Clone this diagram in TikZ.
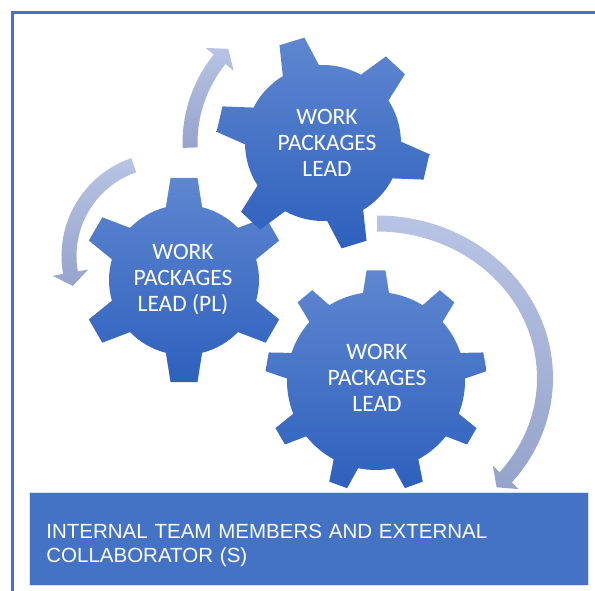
\documentclass[tikz,border=0pt]{standalone}
\usepackage{fontspec}
\newfontfamily\gearfont{Carlito}
\newfontfamily\teamfont{Liberation Sans}

\definecolor{officeblue}{RGB}{68,114,196}
\definecolor{gearlight}{RGB}{95,135,208}
\definecolor{geardark}{RGB}{46,96,189}
\definecolor{arrowlight}{RGB}{184,196,228}
\definecolor{arrowdark}{RGB}{150,163,203}

\tikzset{
	gearfill/.style={top color=gearlight, bottom color=geardark},
	arrowfill/.style={top color=arrowlight, bottom color=arrowdark},
	geartext/.style={text=white, align=center, font=\gearfont\fontsize{23.5}{26}\selectfont},
	teambox/.style={fill=officeblue, draw=white!80!officeblue, line width=0.8pt, text=white, align=left,
		text width=525pt, inner xsep=17pt, minimum height=93pt, anchor=south west,
		font=\teamfont\fontsize{20.5}{24.5}\selectfont}
}

% centre, teeth, rotation, root radius, tip radius, half angle at root, half angle at tip
\newcommand{\drawgear}[7]{%
	\shade[gearfill, shift={#1}] ({#3+360/#2-#6}:#4)
		\foreach \k in {1,...,#2}{
			-- ({#3+\k*360/#2-#7}:#5) -- ({#3+\k*360/#2+#7}:#5) -- ({#3+\k*360/#2+#6}:#4)
			arc[start angle={#3+\k*360/#2+#6}, end angle={#3+(\k+1)*360/#2-#6}, radius=#4]
		} -- cycle;}

\begin{document}
\begin{tikzpicture}[x=1pt, y=1pt]
		\useasboundingbox (0,0) rectangle (595,590);
		\clip (0,0) rectangle (595,590);
		\draw [officeblue, line width=3pt] (12.5,-10) -- (12.5,577) -- (610,577);
		% arrows
		\begin{scope}[shift={(323,447)}]
			\shade [arrowfill] (182:140.5) arc[start angle=182, end angle=141, radius=140.5] -- (141:151) -- (135.2:133.7) -- (141:115) -- (141:125.5) arc[start angle=141, end angle=182, radius=125.5] -- cycle;
		\end{scope}
		\begin{scope}[shift={(165,334)}]
			\shade [arrowfill] (109:103.5) arc[start angle=109, end angle=190, radius=103.5] -- (190:114) -- (198:97) -- (190:78) -- (190:88.5) arc[start angle=190, end angle=109, radius=88.5] -- cycle;
		\end{scope}
		\begin{scope}[shift={(377,212)}]
			\shade [arrowfill] (0,162.5) arc[start angle=90, end angle=-40, x radius=176, y radius=162.5] -- (141.6,-111.1) -- (119.6,-109.3) -- (115.8,-87.5) -- (-40:160 and 146.5) arc[start angle=-40, end angle=90, x radius=160, y radius=146.5] -- cycle;
		\end{scope}
		% gears
		\drawgear{(376,209)}{9}{90}{89}{111}{8.4}{4.9}
		\drawgear{(184,310)}{6}{90}{75}{103}{14}{7.5}
		\drawgear{(323,447)}{6}{107}{78}{107}{14}{7}
		\node [geartext] (lead1) at (327,447) {WORK\\PACKAGES\\LEAD};
		\node [geartext] (lead2) at (183,310) {WORK\\PACKAGES\\LEAD (PL)};
		\node [geartext] (lead3) at (377,212) {WORK\\PACKAGES\\LEAD};
		\node [teambox] (team) at (29,4) {\rule{0pt}{27pt}INTERNAL TEAM MEMBERS AND EXTERNAL\\COLLABORATOR (S)};
	\end{tikzpicture}
\end{document}
